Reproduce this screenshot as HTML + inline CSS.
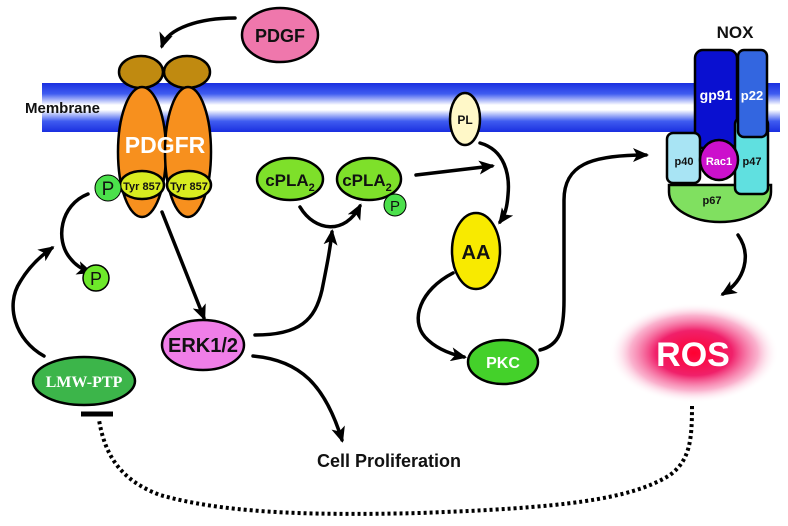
<!DOCTYPE html>
<html><head><meta charset="utf-8"><style>
html,body{margin:0;padding:0;background:#fff;}
svg{display:block;font-family:"Liberation Sans",Arial,sans-serif;font-weight:bold;}
</style></head><body>
<svg width="788" height="526" viewBox="0 0 788 526" xmlns="http://www.w3.org/2000/svg">
<defs>
<linearGradient id="mem" x1="0" y1="0" x2="0" y2="1">
<stop offset="0" stop-color="#1a2fe0"/><stop offset="0.22" stop-color="#3f5cf0"/><stop offset="0.45" stop-color="#ffffff"/><stop offset="0.55" stop-color="#ffffff"/><stop offset="0.78" stop-color="#3f5cf0"/><stop offset="1" stop-color="#1a2fe0"/>
</linearGradient>
<radialGradient id="ros"><stop offset="0" stop-color="#ff0030"/><stop offset="0.45" stop-color="#f0206a"/><stop offset="0.75" stop-color="#f890b8" stop-opacity="0.7"/><stop offset="1" stop-color="#fff" stop-opacity="0"/></radialGradient>
<marker id="ah2" markerWidth="16" markerHeight="14" refX="13" refY="7" orient="auto" markerUnits="userSpaceOnUse"><path d="M0,0 L16,7 L0,14 L4,7 Z" fill="#000"/></marker>
</defs>
<rect x="42" y="83" width="738" height="49" fill="url(#mem)"/>
<text x="25" y="113" font-size="15" fill="#111">Membrane</text>

<g fill="none" stroke="#000" stroke-width="3.5" stroke-linecap="round">
<path d="M235,18 C200,18 168,28 162,46" marker-end="url(#ah2)"/>
<path d="M88,194 C60,205 55,240 70,258 C76,266 84,270 90,272" marker-end="url(#ah2)"/>
<path d="M44,356 C15,340 5,305 20,282 C30,265 42,255 52,248" marker-end="url(#ah2)"/>
<path d="M162,212 L204,318" marker-end="url(#ah2)"/>
<path d="M255,335 C300,335 315,320 322,290 C327,265 330,250 332,232" marker-end="url(#ah2)"/>
<path d="M253,356 C300,360 325,385 342,440" marker-end="url(#ah2)"/>
<path d="M300,207 C315,232 345,235 360,206" marker-end="url(#ah2)"/>
<path d="M416,175 L492,166" marker-end="url(#ah2)"/>
<path d="M480,143 C505,150 510,175 508,195 C507,208 505,215 500,222" marker-end="url(#ah2)"/>
<path d="M453,273 C420,290 410,320 425,337 C435,348 450,354 464,357" marker-end="url(#ah2)"/>
<path d="M540,350 C560,345 564,330 564,300 L564,200 C564,165 590,155 646,155" marker-end="url(#ah2)"/>
<path d="M738,235 C752,255 745,280 723,294" marker-end="url(#ah2)"/>
<path d="M692,406 C692,440 690,460 670,475 C630,500 560,508 420,513 C300,516 220,512 160,495 C120,480 105,455 99,420" stroke-width="4" stroke-dasharray="3,3" stroke-linecap="butt"/>
<path d="M81,414 L113,414" stroke-width="5" stroke-linecap="butt"/>
</g>

<g stroke="#000" stroke-width="2.5">
<ellipse cx="280" cy="35" rx="38" ry="27" fill="#ef77ac"/>
<ellipse cx="141" cy="72" rx="22" ry="16" fill="#c08a10"/>
<ellipse cx="187" cy="72" rx="23" ry="16" fill="#c08a10"/>
<ellipse cx="142" cy="152" rx="24" ry="65" fill="#f7901e"/>
<ellipse cx="188" cy="152" rx="23" ry="65" fill="#f7901e"/>
<ellipse cx="142" cy="185" rx="22" ry="14" fill="#d8ec20"/>
<ellipse cx="189" cy="185" rx="22" ry="14" fill="#d8ec20"/>
<circle cx="108" cy="188" r="13" fill="#4be04b" stroke-width="1"/>
<circle cx="96" cy="278" r="13" fill="#6de82a" stroke-width="1.5"/>
<ellipse cx="84" cy="381" rx="51" ry="24" fill="#3cb54a"/>
<ellipse cx="203" cy="345" rx="41" ry="25" fill="#f07ee8"/>
<ellipse cx="290" cy="179" rx="33" ry="21" fill="#7ee02a"/>
<ellipse cx="369" cy="179" rx="32" ry="21" fill="#7ee02a"/>
<circle cx="395" cy="205" r="11" fill="#4be04b" stroke-width="1"/>
<ellipse cx="465" cy="119" rx="15" ry="26" fill="#fff8c8"/>
<ellipse cx="476" cy="251" rx="24" ry="38" fill="#f8ea00"/>
<ellipse cx="503" cy="362" rx="35" ry="22" fill="#44d12a"/>
<path d="M669,185 L771,185 L771,192 A51,30 0 0 1 669,192 Z" fill="#80e060"/>
<rect x="695" y="50" width="42" height="98" rx="8" fill="#0a10d0"/>
<rect x="735" y="118" width="33" height="76" rx="6" fill="#60e0e0"/>
<rect x="738" y="50" width="29" height="87" rx="6" fill="#3366e0"/>
<rect x="667" y="133" width="33" height="50" rx="6" fill="#a8e4f4"/>
<ellipse cx="719" cy="160" rx="19" ry="20" fill="#cc10cc"/>
</g>
<ellipse cx="694" cy="353" rx="85" ry="50" fill="url(#ros)"/>

<g text-anchor="middle">
<text x="280" y="42" font-size="18" fill="#111">PDGF</text>
<text x="165" y="153" font-size="23" fill="#fff">PDGFR</text>
<text x="142" y="190" font-size="11" fill="#111">Tyr 857</text>
<text x="189" y="190" font-size="11" fill="#111">Tyr 857</text>
<text x="108" y="195" font-size="19" font-weight="normal" fill="#111">P</text>
<text x="96" y="285" font-size="18" font-weight="normal" fill="#111">P</text>
<text x="395" y="211" font-size="15" font-weight="normal" fill="#111">P</text>
<text x="84" y="387" font-size="16" fill="#fff" font-family="Liberation Serif,serif">LMW-PTP</text>
<text x="203" y="352" font-size="20" fill="#111">ERK1/2</text>
<text x="290" y="186" font-size="17" fill="#111">cPLA<tspan font-size="11" dy="5">2</tspan></text>
<text x="367" y="186" font-size="17" fill="#111">cPLA<tspan font-size="11" dy="5">2</tspan></text>
<text x="465" y="124" font-size="12" fill="#111">PL</text>
<text x="476" y="259" font-size="20" fill="#111">AA</text>
<text x="503" y="368" font-size="16" fill="#fff">PKC</text>
<text x="735" y="38" font-size="17" fill="#111">NOX</text>
<text x="716" y="100" font-size="14" fill="#fff">gp91</text>
<text x="752" y="100" font-size="13" fill="#fff">p22</text>
<text x="684" y="165" font-size="11" fill="#111">p40</text>
<text x="719" y="165" font-size="11" fill="#fff">Rac1</text>
<text x="752" y="165" font-size="11" fill="#111">p47</text>
<text x="712" y="204" font-size="11" fill="#111">p67</text>
<text x="693" y="366" font-size="34" fill="#fff">ROS</text>
<text x="389" y="467" font-size="18" fill="#111">Cell Proliferation</text>
</g>
</svg>
</body></html>
